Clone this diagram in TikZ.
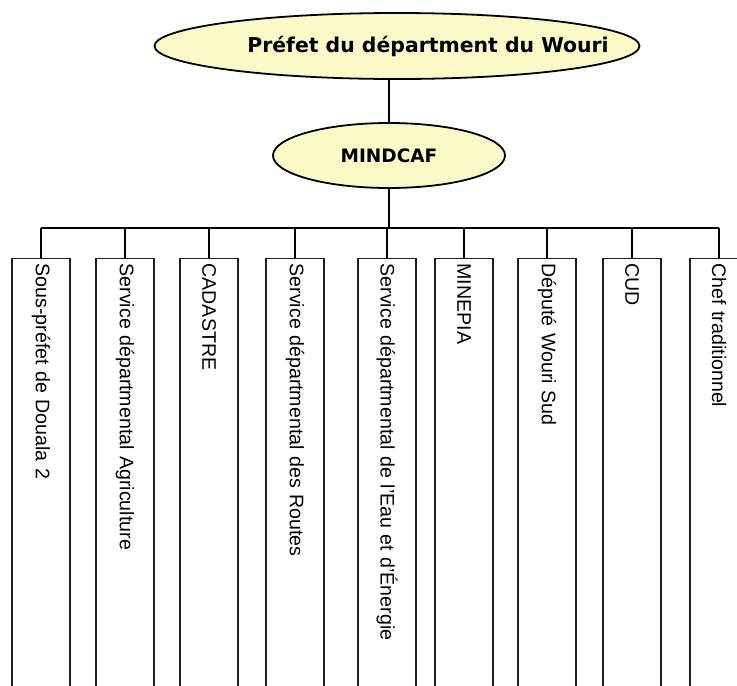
\documentclass[tikz,border=0pt]{standalone}
\usepackage{fontspec}
\setmainfont{Liberation Sans}
\newfontfamily\headfont{DejaVu Sans}
\usetikzlibrary{shapes.geometric}
\definecolor{paleyellow}{RGB}{250,250,200}
\definecolor{boxline}{RGB}{30,30,30}
\newcommand{\leaffont}{\fontsize{19.6}{22}\selectfont
    \spaceskip=10.5pt plus 1pt minus 1pt\relax}
\begin{document}
\begin{tikzpicture}[x=1pt, y=-1pt,
    boss/.style={ellipse, draw, line width=1.8pt, fill=paleyellow, inner sep=0pt},
    bosstext/.style={font=\headfont\bfseries\fontsize{20.4}{24}\selectfont, inner sep=0pt},
    leaf/.style={rectangle, draw=boxline, line width=1.1pt, rotate=-90,
        anchor=west, minimum height=58pt, inner xsep=5pt,
        text width=500pt, align=left, font=\leaffont},
    link/.style={line width=2.4pt}]
\useasboundingbox (0,0) rectangle (737,686);
\clip (0,0) rectangle (737,686);
\fill[white] (0,0) rectangle (737,686);
% Head of the department
\node[boss, minimum width=485pt, minimum height=66pt] (prefet) at (397,46) {};
\node[bosstext] (prefettext) at (428,46) {Préfet du départment du Wouri};
\node[boss, minimum width=232pt, minimum height=65pt,
    bosstext, font=\headfont\bfseries\fontsize{18.5}{22}\selectfont] (mindcaf) at (389,155.5)
    {MINDCAF};
% Services below
\node[leaf] (b1) at (41,258) {Sous-préfet de Douala 2};
\node[leaf] (b2) at (125,258) {Service départmental Agriculture};
\node[leaf] (b3) at (209,258) {CADASTRE};
\node[leaf] (b4) at (295,258) {Service départmental des Routes};
\node[leaf] (b5) at (387,258) {Service départmental de l'Eau et d'Énergie};
\node[leaf] (b6) at (464,258) {MINEPIA};
\node[leaf] (b7) at (547,258) {Député Wouri Sud};
\node[leaf] (b8) at (632,258) {CUD};
\node[leaf] (b9) at (719,258) {Chef traditionnel};
% Links
\draw[link] (mindcaf.north) -- (mindcaf.north |- prefet.south);
\coordinate (hub) at (389,228);
\draw[link] (mindcaf.south) -- (hub);
\draw[link] (b1.west |- hub) -- (b9.west |- hub);
\foreach \i in {1,...,9}
    \draw[link] (b\i.west |- hub) -- (b\i.west);
\end{tikzpicture}
\end{document}
